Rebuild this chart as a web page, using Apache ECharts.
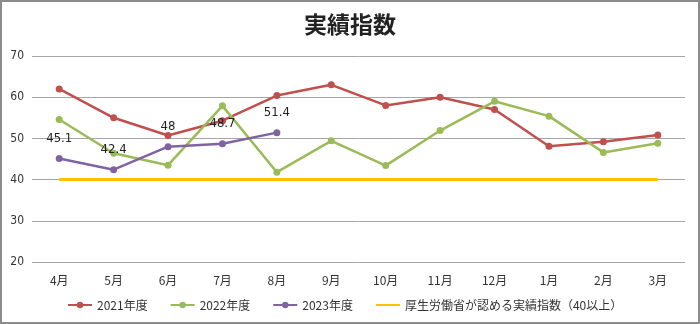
<!DOCTYPE html>
<html><head><meta charset="utf-8">
<script src="https://cdn.jsdelivr.net/npm/echarts@6/dist/echarts.min.js"></script>
<style>
html,body{margin:0;padding:0;background:#fff;}
#c{width:700px;height:324px;box-sizing:border-box;border:2px solid #8c8c8c;}
</style></head>
<body><div id="c"></div>
<script>
const categories = ['4月','5月','6月','7月','8月','9月','10月','11月','12月','1月','2月','3月'];
const fy2021 = [62, 55, 50.7, 54.3, 60.4, 63, 58, 60, 57, 48.1, 49.2, 50.8];
const fy2022 = [54.6, 46.4, 43.5, 57.9, 41.8, 49.4, 43.4, 51.9, 59, 55.4, 46.6, 48.8];
const fy2023 = [45.1, 42.4, 48, 48.7, 51.4];
const standard = [40, 40, 40, 40, 40, 40, 40, 40, 40, 40, 40, 40];
const seriesNames = ['2021年度','2022年度','2023年度','厚生労働省が認める実績指数（40以上）'];
const yTicks = {min: 20, max: 70, interval: 10};

const font = '"DejaVu Sans Condensed","DejaVu Sans",sans-serif';
const cjk = '"Noto Sans CJK JP","DejaVu Sans Condensed",sans-serif';
const chart = echarts.init(document.getElementById('c'));
chart.setOption({
  animation: false,
  title: {text: '実績指数', left: 'center', top: 6,
    textStyle: {fontFamily: cjk, fontSize: 23, fontWeight: 'bold', color: '#222'}},
  legend: {
    bottom: 6, left: 60, itemGap: 22, itemWidth: 24, itemHeight: 8,
    textStyle: {fontFamily: cjk, fontSize: 12, color: '#333'},
    data: seriesNames
  },
  grid: {left: 30, right: 13, top: 54, bottom: 60},
  xAxis: {
    type: 'category', data: categories, boundaryGap: true,
    axisLine: {show: false}, axisTick: {show: false},
    axisLabel: {fontFamily: cjk, fontSize: 12, color: '#333', margin: 12}
  },
  yAxis: {
    type: 'value', min: yTicks.min, max: yTicks.max, interval: yTicks.interval,
    axisLine: {show: false}, axisTick: {show: false},
    axisLabel: {fontFamily: font, fontSize: 12, color: '#333', margin: 8},
    splitLine: {lineStyle: {color: '#a6a6a6', width: 1}}
  },
  series: [
    {name: seriesNames[0], type: 'line', data: fy2021, symbol: 'circle', symbolSize: 7,
     itemStyle: {color: '#C0504D'}, lineStyle: {width: 2.5, color: '#C0504D'}},
    {name: seriesNames[1], type: 'line', data: fy2022, symbol: 'circle', symbolSize: 7,
     itemStyle: {color: '#9BBB59'}, lineStyle: {width: 2.5, color: '#9BBB59'}},
    {name: seriesNames[2], type: 'line', data: fy2023, symbol: 'circle', symbolSize: 7,
     itemStyle: {color: '#8064A2'}, lineStyle: {width: 2.5, color: '#8064A2'},
     label: {show: true, position: 'top', distance: 10, fontFamily: font, fontSize: 13, color: '#222'}},
    {name: seriesNames[3], type: 'line', data: standard, symbol: 'none', showSymbol: false,
     itemStyle: {color: '#FFC000', opacity: 0}, lineStyle: {width: 3, color: '#FFC000'}, z: 1}
  ]
});
</script></body></html>
